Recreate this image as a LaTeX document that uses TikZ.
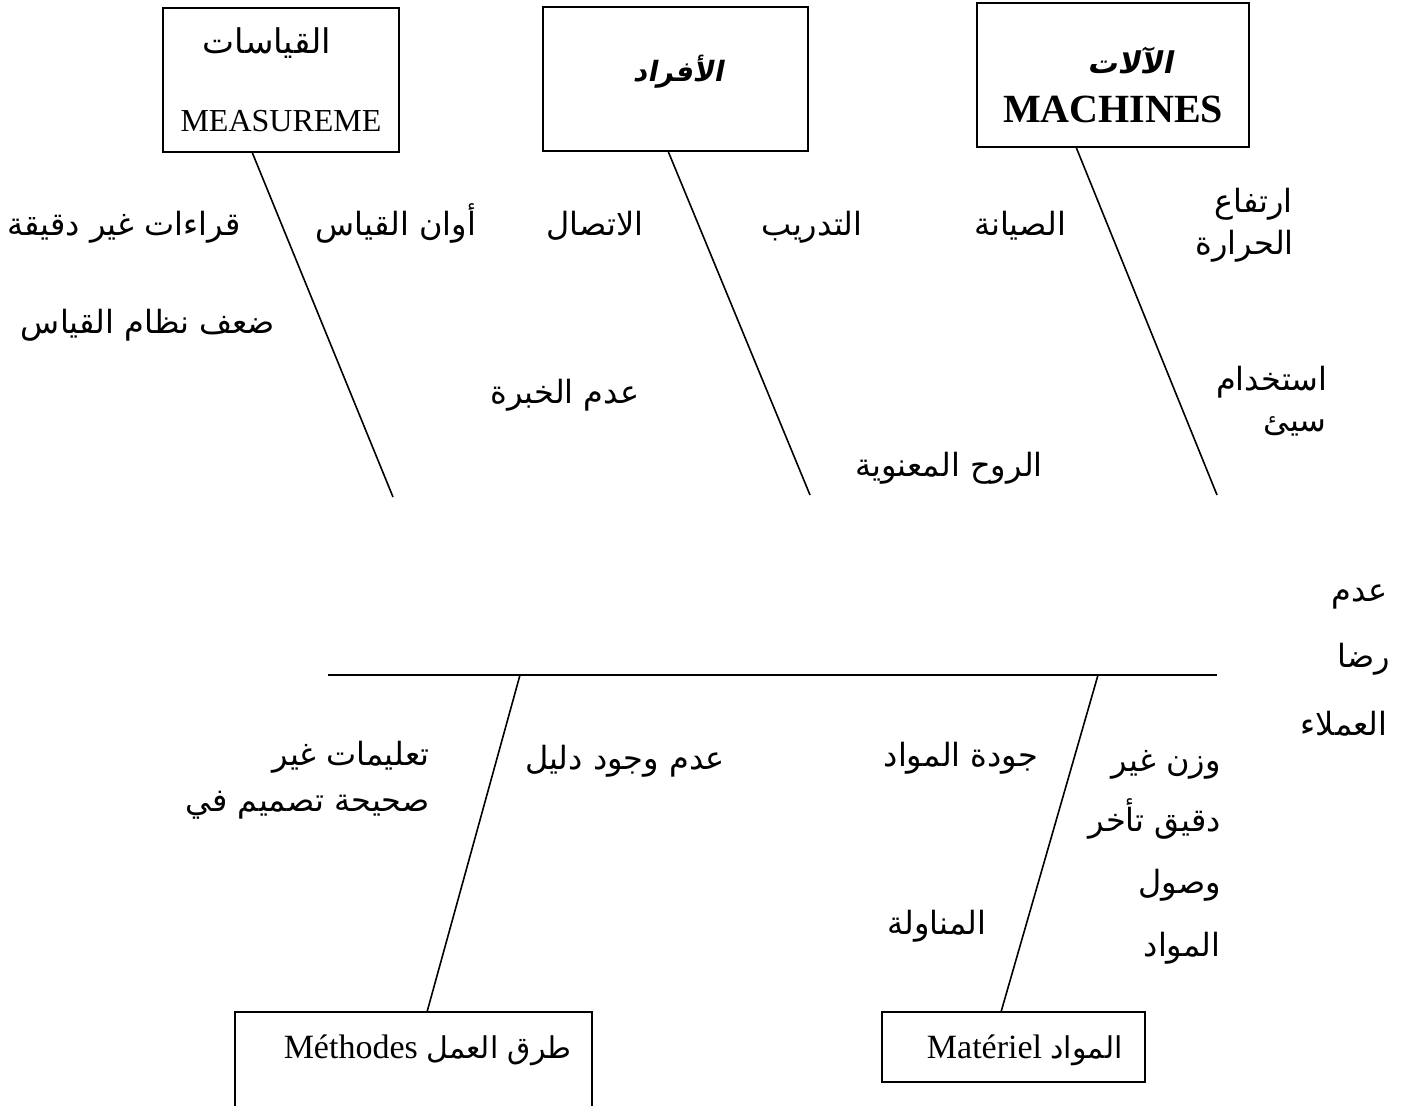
\documentclass[tikz,border=0pt]{standalone}
\usepackage{fontspec}
\setmainfont{Liberation Serif}
\newfontfamily\arabicfont[Script=Arabic]{DejaVu Sans}
\newfontfamily\arabicslanted[Script=Arabic,FakeSlant=0.2]{DejaVu Sans Bold}
\TeXXeTstate=1
\newcommand\rtl[1]{\beginR #1\endR}

\begin{document}
\begin{tikzpicture}[x=0.5pt,y=-0.5pt,
  catbox/.style={draw, line width=1pt, inner sep=0pt},
  bone/.style={line width=0.8pt},
  spineline/.style={line width=1.1pt},
  cause/.style={font=\arabicfont\fontsize{16}{19}\selectfont, inner sep=0pt, anchor=base},
  causer/.style={cause, anchor=base east},
  latin/.style={inner sep=0pt, anchor=base}]
\useasboundingbox (0,0) rectangle (1406,1106);

% category boxes
\node[catbox, minimum width=118pt, minimum height=72pt] (mbox) at (281,80) {};
\node[catbox, minimum width=132.5pt, minimum height=72pt] (pbox) at (675.5,79) {};
\node[catbox, minimum width=136pt, minimum height=72pt] (kbox) at (1113,75) {};
\node[catbox, minimum width=178.5pt, minimum height=60pt] (wbox) at (413.5,1072) {};
\node[catbox, minimum width=131.5pt, minimum height=35pt] (vbox) at (1013.5,1047) {};

% box titles
\node[cause] (mtitle) at (267,54) {\fontsize{17}{19}\selectfont\rtl{القياسات}};
\node[latin, font=\fontsize{16}{18}\selectfont] (mlatin) at (281,132) {MEASUREME};
\node[inner sep=0pt, anchor=base, font=\arabicslanted\fontsize{14}{16}\selectfont] (ptitle) at (678,82) {\rtl{الأفراد}};
\node[inner sep=0pt, anchor=base, font=\arabicslanted\fontsize{15}{18}\selectfont] (ktitle) at (1130,74) {\rtl{الآلات}};
\node[latin, font=\bfseries\fontsize{20}{22}\selectfont] (klatin) at (1113,123) {MACHINES};
\node[inner sep=0pt, anchor=base east, font=\fontsize{17}{20}\selectfont] (wtitle) at (572,1058) {Méthodes {\arabicfont\fontsize{15}{18}\selectfont\rtl{طرق العمل}}};
\node[inner sep=0pt, anchor=base east, font=\fontsize{17}{20}\selectfont] (vtitle) at (1123,1058) {Matériel {\arabicfont\fontsize{15}{18}\selectfont\rtl{المواد}}};

% bone end points
\coordinate (mtop) at (252,152);
\coordinate (mend) at (393,497);
\coordinate (ptop) at (668,151);
\coordinate (pend) at (810,495);
\coordinate (ktop) at (1076,147);
\coordinate (kend) at (1217,495);
\coordinate (sl) at (328,675);
\coordinate (sr) at (1217,675);
\coordinate (wroot) at (520,675);
\coordinate (wtop) at (427,1012);
\coordinate (vroot) at (1098,675);
\coordinate (vtop) at (1001,1012);

% spine and bones
\draw[spineline] (sl) -- (sr);
\draw[bone] (mtop) -- (mend);
\draw[bone] (ptop) -- (pend);
\draw[bone] (ktop) -- (kend);
\draw[bone] (wroot) -- (wtop);
\draw[bone] (vroot) -- (vtop);

% causes, upper half
\node[cause] (c1) at (124,236) {\rtl{قراءات غير دقيقة}};
\node[cause] (c2) at (396,236) {\rtl{أوان القياس}};
\node[cause] (c3) at (595,236) {\rtl{الاتصال}};
\node[cause] (c4) at (812,236) {\rtl{التدريب}};
\node[cause] (c5) at (1020,236) {\rtl{الصيانة}};
\node[causer] (c6a) at (1293,213) {\rtl{ارتفاع}};
\node[causer] (c6b) at (1294,255) {\rtl{الحرارة}};
\node[cause] (c7) at (148,334) {\rtl{ضعف نظام القياس}};
\node[cause] (c8) at (565,404) {\rtl{عدم الخبرة}};
\node[cause] (c9) at (949,476) {\rtl{الروح المعنوية}};
\node[causer] (c10a) at (1328,391) {\rtl{استخدام}};
\node[causer] (c10b) at (1327,431) {\rtl{سيئ}};

% effect
\node[causer] (e1) at (1388,601) {\rtl{عدم}};
\node[causer] (e2) at (1390,667) {\rtl{رضا}};
\node[causer] (e3) at (1388,735) {\rtl{العملاء}};

% causes, lower half
\node[causer] (d1a) at (430,765) {\rtl{تعليمات غير}};
\node[causer] (d1b) at (430,811) {\rtl{صحيحة تصميم في}};
\node[cause] (d2) at (625,769) {\rtl{عدم وجود دليل}};
\node[cause] (d3) at (961,766) {\rtl{جودة المواد}};
\node[causer] (d4a) at (1221,771) {\rtl{وزن غير}};
\node[causer] (d4b) at (1221,831) {\rtl{دقيق تأخر}};
\node[causer] (d4c) at (1221,893) {\rtl{وصول}};
\node[causer] (d4d) at (1221,956) {\rtl{المواد}};
\node[cause] (d5) at (937,934) {\rtl{المناولة}};
\end{tikzpicture}
\end{document}
